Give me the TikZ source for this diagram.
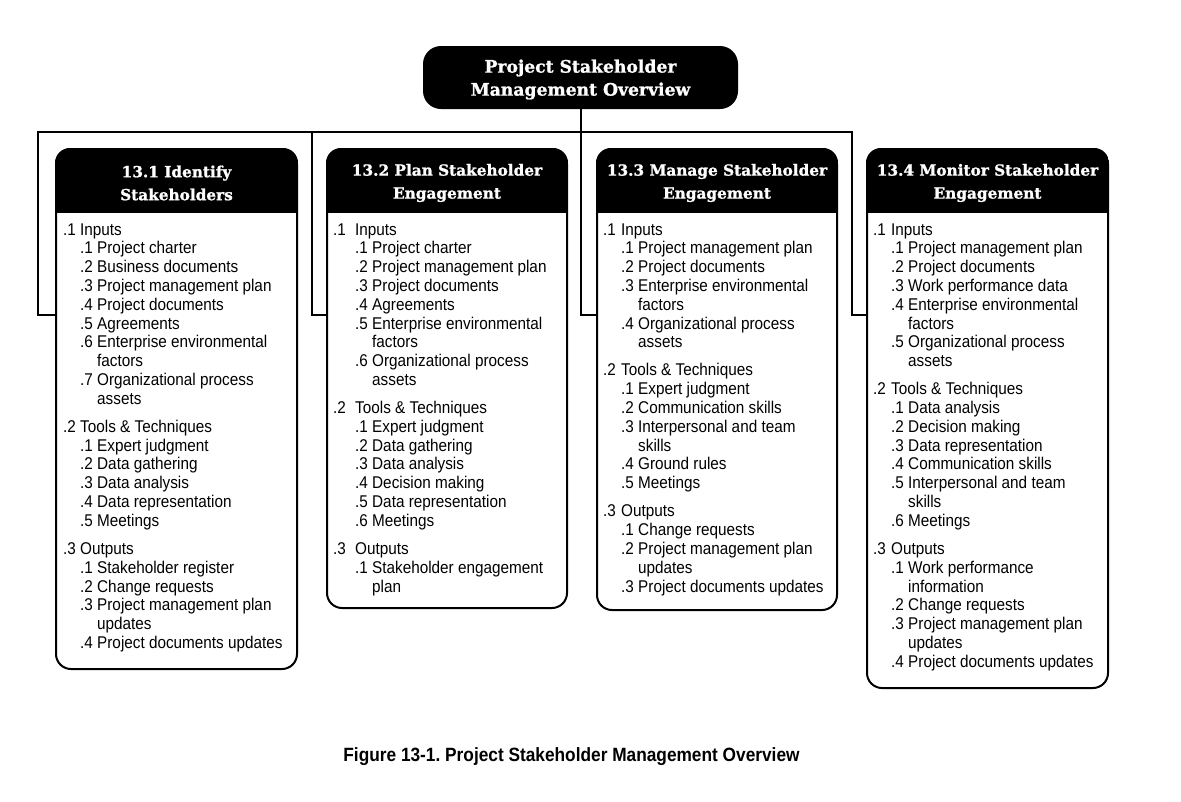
\documentclass[tikz,border=0pt]{standalone}
\usepackage{fontspec}
\newfontfamily\bodyfont{Liberation Sans}[FakeStretch=0.9]
\newfontfamily\headfont{DejaVu Serif Bold}[FakeBold=1.2]
\newfontfamily\capfont{Liberation Sans Bold}[FakeStretch=0.9]
% list layout inside the process boxes
\newlength\pmInd
\setlength\pmInd{17pt}
\newcommand\pmHead[2]{\par\noindent\makebox[\pmInd][l]{#1}#2}
\newcommand\pmItem[2]{\par\noindent\hspace*{\pmInd}\makebox[17pt][l]{#1}#2}
\newcommand\pmCont[1]{\par\noindent\hspace*{\pmInd}\hspace*{17pt}#1}
\newcommand\pmGap{\par\vspace{9.3pt}}
\tikzset{
  wire/.style={line width=2pt, line join=miter},
  boxst/.style={draw, line width=2pt, rounded corners=15pt, inner sep=0pt, anchor=north west},
  hdtxt/.style={text=white, align=center, inner sep=0pt,
    font=\headfont\fontsize{15.3}{23}\selectfont},
  topbox/.style={fill=black, rounded corners=18pt, minimum width=315pt, minimum height=63pt,
    inner sep=0pt},
  toptxt/.style={text=white, align=center, inner sep=0pt,
    font=\headfont\fontsize{17.2}{23}\selectfont},
  bodytxt/.style={anchor=base west, inner sep=0pt,
    font=\bodyfont\fontsize{17}{18.8}\selectfont},
  captxt/.style={inner sep=0pt, font=\capfont\fontsize{19.2}{22}\selectfont}
}
\begin{document}
\begin{tikzpicture}[x=1pt,y=-1pt]
\useasboundingbox (0,0) rectangle (1181,801);
\fill[white] (0,0) rectangle (1181,801);

% overview box
\node[topbox] (top) at (580.5,77.5) {};
\node[toptxt] (tt) at ([yshift=-2pt]top.center) {Project Stakeholder\\Management Overview};

% process boxes
\node[boxst, minimum width=241pt, minimum height=520pt] (b1) at (55,148) {};
\node[boxst, minimum width=240pt, minimum height=459pt] (b2) at (326,148) {};
\node[boxst, minimum width=240pt, minimum height=461pt] (b3) at (596,148) {};
\node[boxst, minimum width=241pt, minimum height=539pt] (b4) at (866,148) {};

% black title bands
\foreach \b in {b1,b2,b3,b4}{
  \begin{scope}
    \clip[rounded corners=15pt] (\b.north west) rectangle (\b.south east);
    \fill ([yshift=2pt]\b.north west) rectangle ([yshift=-65pt]\b.north east);
  \end{scope}
}
\node[hdtxt] (h1) at ([yshift=-35pt]b1.north) {13.1 Identify\\Stakeholders};
\node[hdtxt] (h2) at ([yshift=-35pt]b2.north) {13.2 Plan Stakeholder\\Engagement};
\node[hdtxt] (h3) at ([yshift=-35pt]b3.north) {13.3 Manage Stakeholder\\Engagement};
\node[hdtxt] (h4) at ([yshift=-35pt]b4.north) {13.4 Monitor Stakeholder\\Engagement};

% connectors
\coordinate (busL) at (38,132);
\coordinate (busR) at (852,132);
\coordinate (tap2) at (312,132);
\coordinate (lv) at (0,315);
\draw[wire] (b1.west |- lv) -| (busL) -- (busR) |- (b4.west |- lv);
\draw[wire] (tap2) |- (b2.west |- lv);
\draw[wire] (top.south) -- (top.south |- lv) -- (b3.west |- lv);

% box contents
\node[bodytxt] (t1) at (63,235) {\begin{minipage}[t]{228pt}\parskip=0pt
\pmHead{.1}{Inputs}
\pmItem{.1}{Project charter}
\pmItem{.2}{Business documents}
\pmItem{.3}{Project management plan}
\pmItem{.4}{Project documents}
\pmItem{.5}{Agreements}
\pmItem{.6}{Enterprise environmental}
\pmCont{factors}
\pmItem{.7}{Organizational process}
\pmCont{assets}
\pmGap
\pmHead{.2}{Tools \& Techniques}
\pmItem{.1}{Expert judgment}
\pmItem{.2}{Data gathering}
\pmItem{.3}{Data analysis}
\pmItem{.4}{Data representation}
\pmItem{.5}{Meetings}
\pmGap
\pmHead{.3}{Outputs}
\pmItem{.1}{Stakeholder register}
\pmItem{.2}{Change requests}
\pmItem{.3}{Project management plan}
\pmCont{updates}
\pmItem{.4}{Project documents updates}
\end{minipage}};

\node[bodytxt] (t2) at (333,235) {\begin{minipage}[t]{228pt}\parskip=0pt\setlength\pmInd{22pt}
\pmHead{.1}{Inputs}
\pmItem{.1}{Project charter}
\pmItem{.2}{Project management plan}
\pmItem{.3}{Project documents}
\pmItem{.4}{Agreements}
\pmItem{.5}{Enterprise environmental}
\pmCont{factors}
\pmItem{.6}{Organizational process}
\pmCont{assets}
\pmGap
\pmHead{.2}{Tools \& Techniques}
\pmItem{.1}{Expert judgment}
\pmItem{.2}{Data gathering}
\pmItem{.3}{Data analysis}
\pmItem{.4}{Decision making}
\pmItem{.5}{Data representation}
\pmItem{.6}{Meetings}
\pmGap
\pmHead{.3}{Outputs}
\pmItem{.1}{Stakeholder engagement}
\pmCont{plan}
\end{minipage}};

\node[bodytxt] (t3) at (603,235) {\begin{minipage}[t]{228pt}\parskip=0pt\setlength\pmInd{18pt}
\pmHead{.1}{Inputs}
\pmItem{.1}{Project management plan}
\pmItem{.2}{Project documents}
\pmItem{.3}{Enterprise environmental}
\pmCont{factors}
\pmItem{.4}{Organizational process}
\pmCont{assets}
\pmGap
\pmHead{.2}{Tools \& Techniques}
\pmItem{.1}{Expert judgment}
\pmItem{.2}{Communication skills}
\pmItem{.3}{Interpersonal and team}
\pmCont{skills}
\pmItem{.4}{Ground rules}
\pmItem{.5}{Meetings}
\pmGap
\pmHead{.3}{Outputs}
\pmItem{.1}{Change requests}
\pmItem{.2}{Project management plan}
\pmCont{updates}
\pmItem{.3}{Project documents updates}
\end{minipage}};

\node[bodytxt] (t4) at (873,235) {\begin{minipage}[t]{228pt}\parskip=0pt\setlength\pmInd{18pt}
\pmHead{.1}{Inputs}
\pmItem{.1}{Project management plan}
\pmItem{.2}{Project documents}
\pmItem{.3}{Work performance data}
\pmItem{.4}{Enterprise environmental}
\pmCont{factors}
\pmItem{.5}{Organizational process}
\pmCont{assets}
\pmGap
\pmHead{.2}{Tools \& Techniques}
\pmItem{.1}{Data analysis}
\pmItem{.2}{Decision making}
\pmItem{.3}{Data representation}
\pmItem{.4}{Communication skills}
\pmItem{.5}{Interpersonal and team}
\pmCont{skills}
\pmItem{.6}{Meetings}
\pmGap
\pmHead{.3}{Outputs}
\pmItem{.1}{Work performance}
\pmCont{information}
\pmItem{.2}{Change requests}
\pmItem{.3}{Project management plan}
\pmCont{updates}
\pmItem{.4}{Project documents updates}
\end{minipage}};

% caption
\node[captxt] (cap) at (571.5,757) {Figure 13-1.\ Project Stakeholder Management Overview};
\end{tikzpicture}
\end{document}
